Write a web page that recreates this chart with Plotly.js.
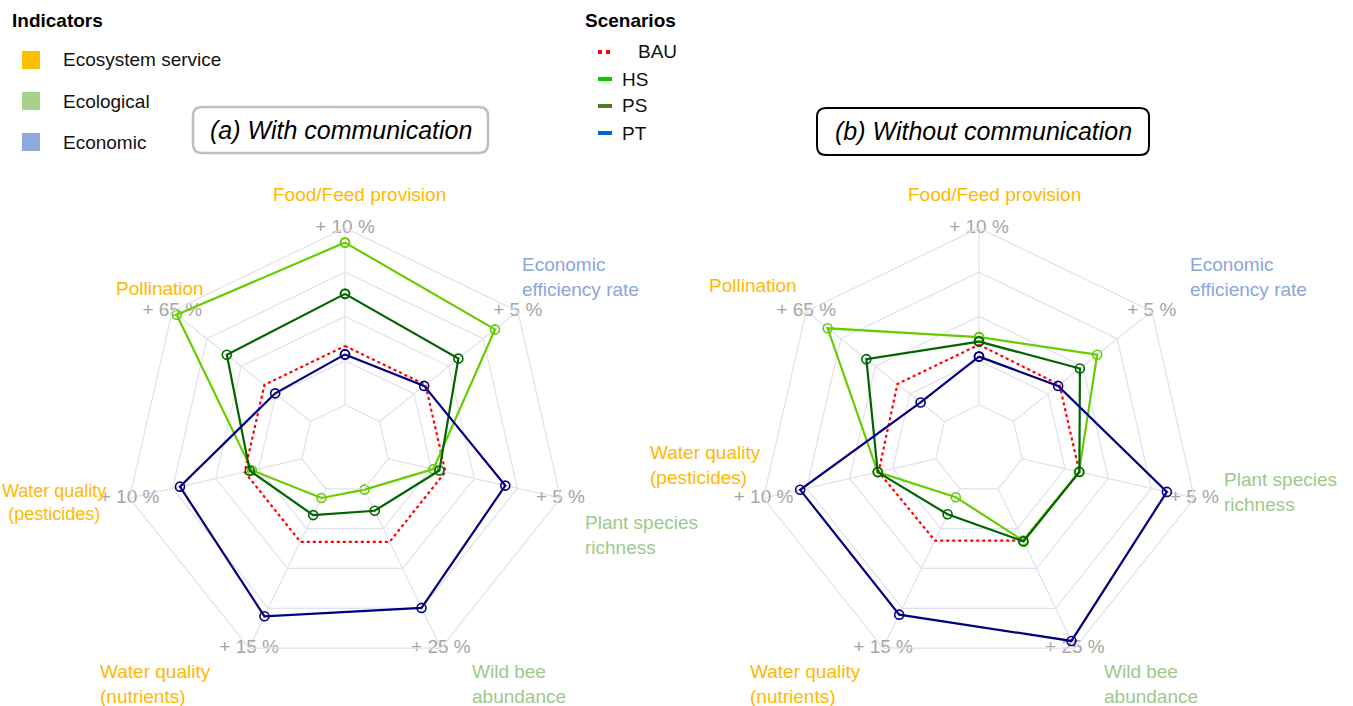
<!DOCTYPE html>
<html>
<head>
<meta charset="utf-8">
<script src="https://cdn.plot.ly/plotly-3.0.1.min.js"></script>
<style>html,body{margin:0;padding:0;background:#fff;}#chart{width:1353px;height:706px;}</style>
</head>
<body>
<div id="chart"></div>
<script>
// ---------- DATA ----------
// Axis order (clockwise from top)
const categories = ["Food/Feed provision", "Economic efficiency rate", "Plant species richness",
  "Wild bee abundance", "Water quality (nutrients)", "Water quality (pesticides)", "Pollination"];
// Maximum label printed at the outer ring of each axis
const maxLabels = ["+ 10 %", "+ 5 %", "+ 5 %", "+ 25 %", "+ 15 %", "+ 10 %", "+ 65 %"];
const minLabel = "-30 %";
const scenarios = ["BAU", "HS", "PS", "PT"];
// Radar scores (0 = inner ring / minimum, 4 = outer ring / maximum)
// (a) With communication
const withBAU = [1.33, 1.33, 1.33, 1.33, 1.33, 1.33, 1.33];
const withHS  = [3.67, 3.34, 1.05, 0.02, 0.23, 1.16, 3.87];
const withPS  = [2.51, 2.28, 1.19, 0.55, 0.66, 1.21, 2.42];
const withPT  = [1.14, 1.29, 2.72, 2.99, 3.20, 2.83, 1.02];
// (b) Without communication
const withoutBAU = [1.36, 1.33, 1.33, 1.30, 1.30, 1.33, 1.36];
const withoutHS  = [1.53, 2.42, 1.32, 1.30, 0.21, 1.35, 3.38];
const withoutPS  = [1.43, 1.92, 1.33, 1.32, 0.64, 1.35, 2.26];
const withoutPT  = [1.09, 1.29, 3.36, 3.82, 3.16, 3.15, 0.69];
// Indicator groups
const indicatorGroups = ["Ecosystem service", "Ecological", "Economic"];

// ---------- STYLE ----------
const W = 1353, H = 706;
const px = x => x / W, py = y => 1 - y / H;
const FONT = "Liberation Sans, Arial, sans-serif";
const groupColors = {"Ecosystem service": "#FFC000", "Ecological": "#A9D18E", "Economic": "#8EA9DB"};
const labelColors = {"Ecosystem service": "#FFB800", "Ecological": "#9DC98A", "Economic": "#8CA6DB"};
const scenStyle = {
  BAU: {color: "#FF0000", dash: "dot", marker: false},
  HS:  {color: "#66CC00", dash: "solid", marker: true},
  PS:  {color: "#006400", dash: "solid", marker: true},
  PT:  {color: "#000080", dash: "solid", marker: true}
};
const legendLineColors = {BAU: "#FF0000", HS: "#00CC00", PS: "#4E7A2E", PT: "#0066CC"};

function close(a) { return a.concat([a[0]]); }

const sets = [
  {polar: "polar",  vals: {BAU: withBAU, HS: withHS, PS: withPS, PT: withPT}},
  {polar: "polar2", vals: {BAU: withoutBAU, HS: withoutHS, PS: withoutPS, PT: withoutPT}}
];

const traces = [];
sets.forEach(s => {
  // axis value labels
  traces.push({type: "scatterpolar", subplot: s.polar, mode: "text",
    r: categories.map(() => 4), theta: categories, text: maxLabels,
    textfont: {family: FONT, size: 19, color: "#A6A6A6"}, textposition: "middle center",
    hoverinfo: "skip", showlegend: false, cliponaxis: false});
  traces.push({type: "scatterpolar", subplot: s.polar, mode: "text",
    r: [0], theta: [categories[0]], text: [minLabel],
    textfont: {family: FONT, size: 19, color: "#A6A6A6"}, textposition: "middle center",
    hoverinfo: "skip", showlegend: false, cliponaxis: false});
  scenarios.forEach(sc => {
    const st = scenStyle[sc];
    traces.push({type: "scatterpolar", subplot: s.polar, name: sc,
      mode: st.marker ? "lines+markers" : "lines",
      r: close(s.vals[sc]), theta: close(categories),
      line: {color: st.color, width: 2.2, dash: st.dash},
      marker: {symbol: "circle-open", size: 9, color: st.color, line: {width: 1.6, color: st.color}},
      showlegend: false, cliponaxis: false});
  });
});

const cx = [345, 979], cy = 449, R = 221;
function polarLayout(i) {
  return {
    domain: {x: [px(cx[i] - R), px(cx[i] + R)], y: [py(cy + R), py(cy - R)]},
    gridshape: "linear", hole: 0.2, bgcolor: "rgba(0,0,0,0)",
    radialaxis: {range: [0, 4], dtick: 1, tick0: 0, showticklabels: false, ticks: "",
      showline: false, gridcolor: "#E1E1F0", gridwidth: 1.2},
    angularaxis: {type: "category", categoryarray: categories, direction: "clockwise", rotation: 90,
      showticklabels: false, ticks: "", showline: true, linecolor: "#E1E1F0", linewidth: 1.2,
      gridcolor: "#E1E1F0", gridwidth: 1.2}
  };
}

const catGroup = ["Ecosystem service", "Economic", "Ecological", "Ecological",
  "Ecosystem service", "Ecosystem service", "Ecosystem service"];
const catText = ["Food/Feed provision", "Economic<br>efficiency rate", "Plant species<br>richness",
  "Wild bee<br>abundance", "Water quality<br>(nutrients)", "Water quality<br>(pesticides)", "Pollination"];
// label placements [x, y, xanchor, align, size] for each chart
const labelPos = [
  [[360,194,"center","center",19],[520,277,"left","left",19],[583,535,"left","left",19],[470,684,"left","left",19],
   [98,684,"left","left",19],[0,502,"left","center",18],[160,289,"center","center",19]],
  [[994,194,"center","center",19],[1188,277,"left","left",19],[1222,492,"left","left",19],[1102,684,"left","left",19],
   [748,684,"left","left",19],[648,465,"left","left",19],[753,286,"center","center",19]]
];

const annotations = [];
labelPos.forEach(set => {
  set.forEach((p, k) => {
    annotations.push({xref: "paper", yref: "paper", x: px(p[0]), y: py(p[1]), xanchor: p[2], yanchor: "middle",
      text: catText[k], showarrow: false, align: p[3],
      font: {family: FONT, size: p[4], color: labelColors[catGroup[k]]}});
  });
});
// legend headers
annotations.push({xref: "paper", yref: "paper", x: px(10), y: py(20), xanchor: "left", yanchor: "middle",
  text: "<b>Indicators</b>", showarrow: false, font: {family: FONT, size: 19, color: "#000"}});
annotations.push({xref: "paper", yref: "paper", x: px(583), y: py(20), xanchor: "left", yanchor: "middle",
  text: "<b>Scenarios</b>", showarrow: false, font: {family: FONT, size: 19, color: "#000"}});

const shapes = [];
const indY = [60, 101, 142];
indicatorGroups.forEach((g, i) => {
  shapes.push({type: "rect", xref: "paper", yref: "paper", x0: px(22), x1: px(40), y0: py(indY[i] - 9), y1: py(indY[i] + 9),
    fillcolor: groupColors[g], line: {width: 0}});
  annotations.push({xref: "paper", yref: "paper", x: px(61), y: py(indY[i]), xanchor: "left", yanchor: "middle",
    text: g, showarrow: false, font: {family: FONT, size: 19, color: "#111"}});
});
const scY = [52, 79, 106, 133];
scenarios.forEach((sc, i) => {
  shapes.push({type: "line", xref: "paper", yref: "paper", x0: px(598), x1: px(612), y0: py(scY[i]), y1: py(scY[i]),
    line: {color: legendLineColors[sc], width: 4, dash: sc === "BAU" ? "dot" : "solid"}});
  annotations.push({xref: "paper", yref: "paper", x: px(sc === "BAU" ? 636 : 620), y: py(scY[i]), xanchor: "left", yanchor: "middle",
    text: sc, showarrow: false, font: {family: FONT, size: 19, color: "#111"}});
});

function roundRect(x0, y0, x1, y1, r) {
  const P = (x, y) => px(x) + "," + py(y);
  return "M" + P(x0 + r, y0) + " L" + P(x1 - r, y0) + " Q" + P(x1, y0) + " " + P(x1, y0 + r) +
    " L" + P(x1, y1 - r) + " Q" + P(x1, y1) + " " + P(x1 - r, y1) +
    " L" + P(x0 + r, y1) + " Q" + P(x0, y1) + " " + P(x0, y1 - r) +
    " L" + P(x0, y0 + r) + " Q" + P(x0, y0) + " " + P(x0 + r, y0) + " Z";
}
shapes.push({type: "path", xref: "paper", yref: "paper", path: roundRect(193, 107, 488, 153, 9),
  line: {color: "#BEBEBE", width: 2.5}, fillcolor: "rgba(0,0,0,0)"});
shapes.push({type: "path", xref: "paper", yref: "paper", path: roundRect(817, 108, 1149, 155, 9),
  line: {color: "#000000", width: 2}, fillcolor: "rgba(0,0,0,0)"});
annotations.push({xref: "paper", yref: "paper", x: px(340.5), y: py(130), xanchor: "center", yanchor: "middle",
  text: "<i>(a) With communication</i>", showarrow: false, font: {family: FONT, size: 25, color: "#000"}});
annotations.push({xref: "paper", yref: "paper", x: px(983), y: py(131), xanchor: "center", yanchor: "middle",
  text: "<i>(b) Without communication</i>", showarrow: false, font: {family: FONT, size: 25, color: "#000"}});

const layout = {
  width: W, height: H, margin: {l: 0, r: 0, t: 0, b: 0},
  paper_bgcolor: "#fff", plot_bgcolor: "#fff", showlegend: false,
  polar: polarLayout(0), polar2: polarLayout(1),
  annotations: annotations, shapes: shapes
};
Plotly.newPlot("chart", traces, layout, {displayModeBar: false, staticPlot: true});
</script>
</body>
</html>
